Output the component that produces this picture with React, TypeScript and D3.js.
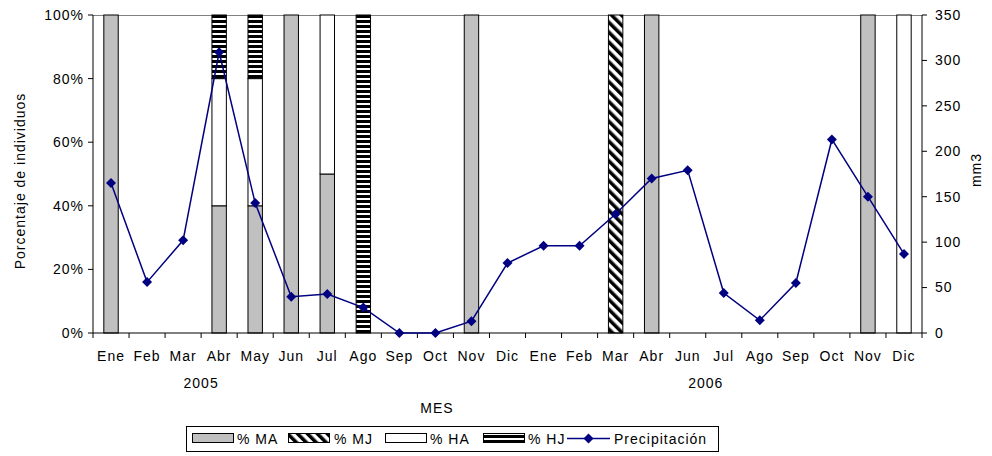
import React from "react";
import * as d3 from "d3";

// Months on the category axis (May 2006 has no record)
const months = [
  "Ene", "Feb", "Mar", "Abr", "May", "Jun", "Jul", "Ago", "Sep", "Oct", "Nov", "Dic",
  "Ene", "Feb", "Mar", "Abr", "Jun", "Jul", "Ago", "Sep", "Oct", "Nov", "Dic",
];
// Year labels, anchored at a category boundary index
const years = [
  { label: "2005", at: 3 },
  { label: "2006", at: 17 },
];

// Percentage of individuals per group
const pctMA = [100, 0, 0, 40, 40, 100, 50, 0, 0, 0, 100, 0, 0, 0, 0, 100, 0, 0, 0, 0, 0, 100, 0];
const pctMJ = [0, 0, 0, 0, 0, 0, 0, 0, 0, 0, 0, 0, 0, 0, 100, 0, 0, 0, 0, 0, 0, 0, 0];
const pctHA = [0, 0, 0, 40, 40, 0, 50, 0, 0, 0, 0, 0, 0, 0, 0, 0, 0, 0, 0, 0, 0, 0, 100];
const pctHJ = [0, 0, 0, 20, 20, 0, 0, 100, 0, 0, 0, 0, 0, 0, 0, 0, 0, 0, 0, 0, 0, 0, 0];

// Monthly precipitation (mm3)
const rain = [165, 56, 102, 309, 143, 40, 43, 28, 0, 0, 13, 77, 96, 96, 131, 170, 179, 44, 14, 55, 213, 150, 87];

const pctTicks = [0, 20, 40, 60, 80, 100];
const rainTicks = [0, 50, 100, 150, 200, 250, 300, 350];

const W = 992;
const H = 456;
const left = 93;
const right = 922;
const top = 15;
const bottom = 333;
const FONT = "'Liberation Sans', Arial, sans-serif";
const LS = 1;

const seriesKeys = ["MA", "MJ", "HA", "HJ"] as const;
const fills: Record<string, string> = {
  MA: "#c0c0c0",
  MJ: "url(#patMJ)",
  HA: "#ffffff",
  HJ: "url(#patHJ)",
};

export default function App() {
  const idx = months.map((_, i) => i);
  const x = d3.scaleBand<number>().domain(idx).range([left, right]).padding(0);
  const step = x.step();
  const barW = step / 2.5;
  const yPct = d3.scaleLinear().domain([0, 100]).range([bottom, top]);
  const yRain = d3.scaleLinear().domain([0, 350]).range([bottom, top]);

  const rows = idx.map((i) => ({
    i,
    MA: pctMA[i],
    MJ: pctMJ[i],
    HA: pctHA[i],
    HJ: pctHJ[i],
  }));
  const stacked = d3.stack<any>().keys(seriesKeys as unknown as string[])(rows);

  const cx = (i: number) => (x(i) as number) + step / 2;
  const line = d3
    .line<number>()
    .x((_, i) => cx(i))
    .y((v) => yRain(v));

  const diamond = (px: number, py: number, r: number) =>
    `M${px},${py - r}L${px + r},${py}L${px},${py + r}L${px - r},${py}Z`;

  const legendItems = [
    { key: "MA", label: "% MA", sx: 192, tx: 237 },
    { key: "MJ", label: "% MJ", sx: 288, tx: 334 },
    { key: "HA", label: "% HA", sx: 385, tx: 430 },
    { key: "HJ", label: "% HJ", sx: 483, tx: 528 },
  ];

  return (
    <svg
      width={W}
      height={H}
      style={{ position: "absolute", left: 0, top: 0, background: "#fff" }}
      fontFamily={FONT}
    >
      <defs>
        <pattern id="patHJ" patternUnits="userSpaceOnUse" width={6} height={5} y={top}>
          <rect width={6} height={5} fill="#fff" />
          <rect width={6} height={3} fill="#000" />
        </pattern>
        <pattern
          id="patMJ"
          patternUnits="userSpaceOnUse"
          width={7}
          height={7}
          patternTransform="rotate(-45)"
        >
          <rect width={7} height={7} fill="#fff" />
          <rect width={3.5} height={7} fill="#000" />
        </pattern>
      </defs>

      {/* top border of the plot area */}
      <line x1={left} x2={right} y1={top + 0.5} y2={top + 0.5} stroke="#808080" strokeWidth={1} />

      {/* stacked percentage bars */}
      {stacked.map((s) =>
        s.map((d, i) => {
          const h = yPct(d[0]) - yPct(d[1]);
          if (h <= 0) return null;
          return (
            <rect
              key={s.key + i}
              x={cx(i) - barW / 2}
              y={yPct(d[1])}
              width={barW}
              height={h}
              fill={fills[s.key]}
              stroke="#000"
              strokeWidth={1}
            />
          );
        })
      )}

      {/* axes */}
      <line x1={left} x2={left} y1={top} y2={bottom} stroke="#000" />
      <line x1={right} x2={right} y1={top} y2={bottom} stroke="#000" />
      <line x1={left} x2={right} y1={bottom} y2={bottom} stroke="#000" />
      {d3.range(months.length + 1).map((b) => {
        const bx = left + b * step;
        return <line key={"xt" + b} x1={bx} x2={bx} y1={bottom} y2={bottom + 5} stroke="#000" />;
      })}
      {pctTicks.map((t) => (
        <g key={"yl" + t}>
          <line x1={left - 5} x2={left} y1={yPct(t)} y2={yPct(t)} stroke="#000" />
          <text
            x={84}
            y={yPct(t)}
            dy="0.35em"
            textAnchor="end"
            fontSize={14}
            letterSpacing={LS}
            fill="#000"
          >
            {t + "%"}
          </text>
        </g>
      ))}
      {rainTicks.map((t) => (
        <g key={"yr" + t}>
          <line x1={right} x2={right + 5} y1={yRain(t)} y2={yRain(t)} stroke="#000" />
          <text x={935} y={yRain(t)} dy="0.35em" fontSize={14} letterSpacing={LS} fill="#000">
            {t}
          </text>
        </g>
      ))}

      {/* category labels */}
      {months.map((m, i) => (
        <text
          key={"m" + i}
          x={cx(i)}
          y={361}
          textAnchor="middle"
          fontSize={14}
          letterSpacing={LS}
          fill="#000"
        >
          {m}
        </text>
      ))}
      {years.map((yv) => (
        <text
          key={yv.label}
          x={left + yv.at * step}
          y={388}
          textAnchor="middle"
          fontSize={14}
          letterSpacing={LS}
          fill="#000"
        >
          {yv.label}
        </text>
      ))}

      {/* axis titles */}
      <text x={437} y={413} textAnchor="middle" fontSize={14} letterSpacing={LS} fill="#000">
        MES
      </text>
      <text
        transform={`translate(25,181) rotate(-90)`}
        textAnchor="middle"
        fontSize={14}
        letterSpacing={LS}
        fill="#000"
      >
        Porcentaje de individuos
      </text>
      <text
        transform={`translate(981,170) rotate(-90)`}
        textAnchor="middle"
        fontSize={14}
        letterSpacing={LS}
        fill="#000"
      >
        mm3
      </text>

      {/* precipitation line */}
      <path d={line(rain) || ""} fill="none" stroke="#000080" strokeWidth={1.5} />
      {rain.map((v, i) => (
        <path key={"d" + i} d={diamond(cx(i), yRain(v), 5)} fill="#000080" />
      ))}

      {/* legend */}
      <rect x={186.5} y={426.5} width={532} height={25} fill="#fff" stroke="#000" />
      {legendItems.map((it) => (
        <g key={"lg" + it.key}>
          <rect
            x={it.sx + 0.5}
            y={433.5}
            width={41}
            height={9}
            fill={fills[it.key]}
            stroke="#000"
          />
          <text x={it.tx} y={444} fontSize={14} letterSpacing={LS} fill="#000">
            {it.label}
          </text>
        </g>
      ))}
      <line x1={567} x2={610} y1={438.5} y2={438.5} stroke="#000080" strokeWidth={1.5} />
      <path d={diamond(588.5, 438.5, 5)} fill="#000080" />
      <text x={614} y={444} fontSize={14} letterSpacing={LS} fill="#000">
        Precipitación
      </text>
    </svg>
  );
}
